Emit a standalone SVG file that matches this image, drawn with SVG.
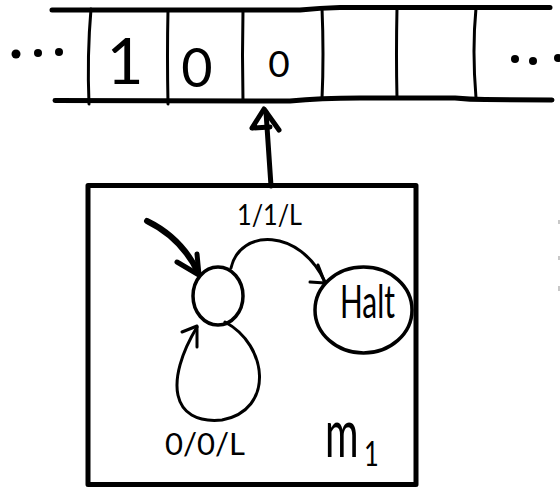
<svg xmlns="http://www.w3.org/2000/svg" width="560" height="489" viewBox="0 0 560 489">
  <style>
    .ink { fill: none; stroke: #000; stroke-linecap: round; stroke-linejoin: round; }
    .rail { stroke-width: 5; }
    .cell { stroke-width: 3; }
    .state { stroke-width: 3.5; }
    .edge { stroke-width: 3; }
    .hand { font-family: "Lato", "DejaVu Sans", sans-serif; font-weight: 400; fill: #000; }
    .dot { fill: #000; }
  </style>
  <rect width="560" height="489" fill="#fff"/>

  <!-- tape -->
  <g id="tape">
    <path class="ink rail" d="M52,10 L300,10 Q320,8 340,7.5 L550,7.5"/>
    <path class="ink rail" d="M55,100.5 L290,101 Q320,98 360,98 L455,98 Q470,99.5 485,99.5 L552,100"/>
    <path class="ink cell" d="M91,9 Q87,55 89,104"/>
    <path class="ink cell" d="M168,10 Q167,55 168,104"/>
    <path class="ink cell" d="M243,10 Q242,55 243,101"/>
    <path class="ink cell" d="M322,8 Q324,55 322,99"/>
    <path class="ink cell" d="M397,8 Q396,55 397,98"/>
    <path class="ink cell" d="M476,8 Q472,50 476,98"/>
    <circle class="dot" cx="16" cy="54" r="4.5"/>
    <circle class="dot" cx="38" cy="53" r="4"/>
    <circle class="dot" cx="59" cy="52" r="4"/>
    <circle class="dot" cx="515" cy="59" r="4"/>
    <circle class="dot" cx="533" cy="61" r="4"/>
    <circle class="dot" cx="558" cy="58" r="4"/>
    <text class="hand" x="125" y="84" font-size="64" text-anchor="middle">1</text>
    <text class="hand" x="197" y="87" font-size="54" text-anchor="middle">0</text>
    <text class="hand" x="279" y="77" font-size="37" text-anchor="middle">0</text>
  </g>

  <!-- faint marks along the right edge -->
  <g id="edge-marks" fill="#c8c8c8">
    <rect x="558" y="220" width="2" height="4"/>
    <rect x="558" y="256" width="2" height="4"/>
    <rect x="558" y="286" width="2" height="5"/>
  </g>

  <!-- machine frame -->
  <g id="machine">
    <rect class="ink" x="88" y="185.5" width="328" height="299" stroke-width="5"/>
    <text class="hand" transform="translate(325,457) scale(0.6,1)" font-size="68">m</text>
    <text class="hand" transform="translate(364,466) scale(0.75,1)" font-size="34">1</text>
  </g>

  <!-- states -->
  <g id="q0">
    <ellipse class="ink state" cx="218" cy="296" rx="25" ry="29"/>
  </g>
  <g id="halt">
    <ellipse class="ink state" cx="363.5" cy="310" rx="48.5" ry="43"/>
    <text class="hand" x="340" y="318" font-size="46" textLength="55" lengthAdjust="spacingAndGlyphs">Halt</text>
  </g>

  <!-- connectors -->
  <g id="edges">
    <!-- read/write head -->
    <path class="ink" stroke-width="5" d="M271,186 L266,112"/>
    <path class="ink" stroke-width="5" d="M252,128 L264,109 L279,130 M252,128 L270,127"/>
    <!-- start -->
    <path class="ink" stroke-width="6" d="M147,221 Q182,238 199,274"/>
    <path class="ink" stroke-width="5" d="M177,262 L199,275 L197,254"/>
    <!-- q0 to halt -->
    <path class="ink edge" d="M231,268 C240,228 300,228 325,282"/>
    <path class="ink edge" d="M310,282 L325,283 L318,265"/>
    <text class="hand" x="237" y="225" font-size="28" textLength="65" lengthAdjust="spacingAndGlyphs">1/1/L</text>
    <!-- self loop -->
    <path class="ink edge" d="M225,322 C268,345 275,410 222,420 C170,425 165,380 197,327"/>
    <path class="ink edge" d="M182,332 L197,326 L197,347"/>
    <text class="hand" x="165" y="455" font-size="30" textLength="80" lengthAdjust="spacingAndGlyphs">0/0/L</text>
  </g>
</svg>
